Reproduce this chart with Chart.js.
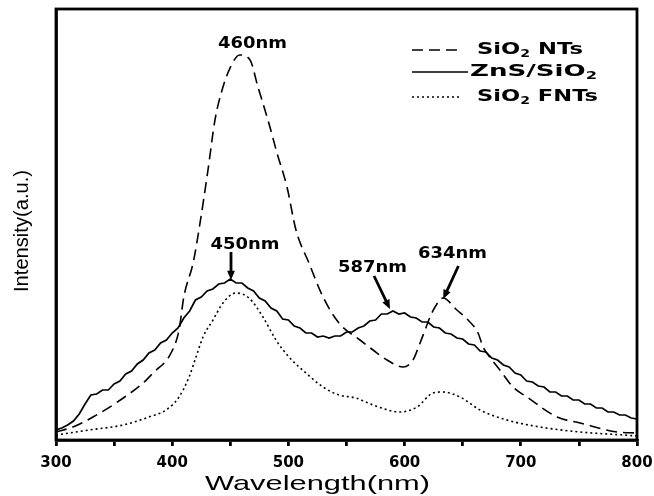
<!DOCTYPE html>
<html>
<head>
<meta charset="utf-8">
<script src="https://cdn.jsdelivr.net/npm/chart.js@4.4.1/dist/chart.umd.min.js"></script>
<style>
    html, body { margin: 0; padding: 0; background: #fff; }
    #wrap { width: 654px; height: 496px; }
</style>
</head>
<body>
<div id="wrap"><canvas id="plChart" width="654" height="496"></canvas></div>
<script>
// PL spectra, intensity in arbitrary units
const ntsWave = [300, 314.6, 331.8, 351.6, 374.9, 383.5, 399, 405.9, 410, 418, 423, 430.8, 436.8, 443.7, 451, 458,
    467, 473.8, 482.4, 490.2, 498.8, 506.5, 517.7, 529.8, 543.5, 561.6, 572.8, 584.9, 598.6, 607.2, 613.3,
    617.6, 621.9, 626.2, 633, 645, 654.6, 663.2, 667.5, 675.2, 682, 693.3, 705.3, 731.2, 751, 782.8, 800];
const ntsValues = [8, 13, 23, 37, 57, 67, 87, 110, 143, 177, 210, 270, 320, 353, 375, 385,
    380, 353, 320, 287, 253, 210, 177, 143, 117, 100, 90, 80, 73, 80, 97,
    110, 123, 133, 142, 130, 120, 107, 93, 80, 70, 53, 43, 23, 17, 8, 7];

// ZnS/SiO2 is a noisy trace, read every 5 nm
const znsWave = [300, 305, 310, 315, 320, 325, 330, 335, 340, 345, 350, 355, 360, 365, 370, 375, 380, 385, 390, 395,
    400, 405, 410, 415, 420, 425, 430, 435, 440, 445, 450, 455, 460, 465, 470, 475, 480, 485, 490, 495,
    500, 505, 510, 515, 520, 525, 530, 535, 540, 545, 550, 555, 560, 565, 570, 575, 580, 585, 590, 595,
    600, 605, 610, 615, 620, 625, 630, 635, 640, 645, 650, 655, 660, 665, 670, 675, 680, 685, 690, 695,
    700, 705, 710, 715, 720, 725, 730, 735, 740, 745, 750, 755, 760, 765, 770, 775, 780, 785, 790, 795, 800];
const znsValues = [10, 12, 15, 19, 26, 36, 45, 46, 50, 50, 56, 59, 66, 69, 76, 80, 87, 90, 97, 100,
    107, 112, 122, 129, 140, 143, 149, 151, 156, 157, 161, 157, 157, 152, 149, 142, 139, 132, 129, 121,
    120, 114, 112, 107, 107, 103, 104, 102, 104, 104, 108, 108, 112, 114, 119, 120, 126, 126, 129, 126,
    127, 123, 122, 118, 118, 113, 112, 107, 106, 102, 101, 96, 95, 89, 88, 82, 80, 75, 73, 67,
    65, 59, 58, 54, 53, 48, 48, 44, 44, 40, 40, 36, 36, 32, 32, 28, 28, 25, 25, 22, 21];

const fntWave = [300, 328.4, 357.7, 380, 394.7, 405.9, 414.5, 420.5, 426.5, 435.1, 443.7, 454.9, 466.1, 478.1,
    489.3, 500.5, 515.1, 529.8, 543.5, 558.2, 572.8, 596, 610.7, 624.4, 633, 647.7, 664.9, 688.1, 716.5, 751, 788, 800];
const fntValues = [5, 10, 15, 23, 30, 43, 63, 83, 103, 120, 137, 147, 142, 123,
    100, 83, 67, 53, 45, 42, 35, 28, 33, 47, 48, 43, 30, 20, 13, 8, 5, 4];

const seriesNames = [["SiO", "2", " NTs"], ["ZnS/SiO", "2", ""], ["SiO", "2", " FNTs"]];
const seriesDash = [[11, 6], [], [2, 3]];
const xTicks = [300, 400, 500, 600, 700, 800];

// peak labels: text centre, arrow start, arrow tip (nm, a.u.)
const peakNotes = [
    {text: "460nm", at: [469.1, 396]},
    {text: "450nm", at: [462.7, 195], from: [450.6, 188], to: [450.6, 160]},
    {text: "587nm", at: [572.4, 172], from: [573.7, 164], to: [587.4, 131]},
    {text: "634nm", at: [641.2, 186], from: [646.3, 174], to: [633.2, 141]}
];

const font = "'Liberation Sans', Arial, sans-serif";
const heavy = "'DejaVu Sans', 'Liberation Sans', sans-serif";

function points(xs, ys) {
    return xs.map((x, i) => ({x: x, y: ys[i]}));
}

// draws [text, size, dy] parts stretched to a given width, starting at x
function drawStretched(ctx, parts, x, y, width, weight, family) {
    let natural = 0;
    parts.forEach((p) => {
        ctx.font = `${weight} ${p[1]}px ${family}`;
        natural += ctx.measureText(p[0]).width;
    });
    const k = width / natural;
    ctx.save();
    ctx.translate(x, y);
    ctx.scale(k, 1);
    let cx = 0;
    parts.forEach((p) => {
        ctx.font = `${weight} ${p[1]}px ${family}`;
        ctx.fillText(p[0], cx, p[2]);
        cx += ctx.measureText(p[0]).width;
    });
    ctx.restore();
}

function drawArrow(ctx, x1, y1, x2, y2) {
    const angle = Math.atan2(y2 - y1, x2 - x1);
    const head = 10;
    ctx.beginPath();
    ctx.moveTo(x1, y1);
    ctx.lineTo(x2 - Math.cos(angle) * head * 0.6, y2 - Math.sin(angle) * head * 0.6);
    ctx.lineWidth = 2.8;
    ctx.stroke();
    ctx.beginPath();
    ctx.moveTo(x2, y2);
    ctx.lineTo(x2 - head * Math.cos(angle - 0.4), y2 - head * Math.sin(angle - 0.4));
    ctx.lineTo(x2 - head * Math.cos(angle + 0.4), y2 - head * Math.sin(angle + 0.4));
    ctx.closePath();
    ctx.fill();
}

const extrasPlugin = {
    id: "extras",
    afterDraw(chart) {
        const ctx = chart.ctx;
        const area = chart.chartArea;
        const sx = chart.scales.x;
        const sy = chart.scales.y;
        ctx.save();
        ctx.strokeStyle = "#000";
        ctx.fillStyle = "#000";

        // frame
        ctx.lineWidth = 2.8;
        ctx.strokeRect(area.left, area.top, area.right - area.left, area.bottom - area.top);

        // axis titles
        ctx.textBaseline = "middle";
        ctx.textAlign = "left";
        drawStretched(ctx, [["Wavelength(nm)", 21, 0]], 205, 484, 225, "normal", font);
        ctx.save();
        ctx.translate(22, 292);
        ctx.rotate(-Math.PI / 2);
        drawStretched(ctx, [["Intensity(a.u.)", 20, 0]], 0, 0, 122, "normal", font);
        ctx.restore();

        // peak notes
        peakNotes.forEach((note) => {
            const px = sx.getPixelForValue(note.at[0]);
            const py = sy.getPixelForValue(note.at[1]);
            drawStretched(ctx, [[note.text, 15, 0]], px - 34.5, py, 69, "bold", heavy);
            if (note.from) {
                drawArrow(ctx,
                    sx.getPixelForValue(note.from[0]), sy.getPixelForValue(note.from[1]),
                    sx.getPixelForValue(note.to[0]), sy.getPixelForValue(note.to[1]));
            }
        });

        // legend
        const rows = [
            {y: 50, x: 477, w: 106, line: 50},
            {y: 72, x: 470, w: 127, line: 56},
            {y: 97, x: 477, w: 121, line: 50}
        ];
        seriesNames.forEach((name, i) => {
            const r = rows[i];
            ctx.beginPath();
            ctx.setLineDash(seriesDash[i]);
            ctx.lineWidth = 1.6;
            ctx.moveTo(412, r.y);
            ctx.lineTo(412 + r.line, r.y);
            ctx.stroke();
            ctx.setLineDash([]);
            drawStretched(ctx, [[name[0], 16, 0], [name[1], 10, 4], [name[2], 16, 0]], r.x, r.y, r.w, "bold", heavy);
        });
        ctx.restore();
    }
};

const lineStyle = {
    borderColor: "#000",
    pointRadius: 0,
    fill: false
};

new Chart(document.getElementById("plChart"), {
    type: "line",
    data: {
        datasets: [
            Object.assign({label: "SiO2 NTs", data: points(ntsWave, ntsValues), borderWidth: 1.6,
                borderDash: seriesDash[0], cubicInterpolationMode: "monotone"}, lineStyle),
            Object.assign({label: "ZnS/SiO2", data: points(znsWave, znsValues), borderWidth: 1.7, tension: 0}, lineStyle),
            Object.assign({label: "SiO2 FNTs", data: points(fntWave, fntValues), borderWidth: 1.6,
                borderDash: seriesDash[2], cubicInterpolationMode: "monotone"}, lineStyle)
        ]
    },
    options: {
        responsive: false,
        animation: false,
        layout: {padding: {top: 9, right: 17, left: 0, bottom: 0}},
        plugins: {legend: {display: false}, tooltip: {enabled: false}},
        scales: {
            x: {
                type: "linear",
                min: 300,
                max: 800,
                afterFit(scale) {
                    scale.height = 56;
                    scale.paddingLeft = 0;
                    scale.paddingRight = 0;
                },
                afterBuildTicks(scale) {
                    scale.ticks = [];
                    for (let v = 300; v <= 800; v += 50) scale.ticks.push({value: v});
                },
                ticks: {
                    color: "#000",
                    padding: 8,
                    maxRotation: 0,
                    autoSkip: false,
                    font: {family: heavy, size: 15, weight: "bold"},
                    callback: (v) => xTicks.includes(v) ? String(v) : ""
                },
                grid: {drawOnChartArea: false, drawTicks: true, tickLength: 6, lineWidth: 2.8, color: "#000"},
                border: {display: true, color: "#000", width: 2.8}
            },
            y: {
                min: 0,
                max: 431,
                afterFit(scale) { scale.width = 56; },
                ticks: {display: false},
                grid: {display: false},
                border: {display: true, color: "#000", width: 2.8}
            }
        }
    },
    plugins: [extrasPlugin]
});
</script>
</body>
</html>
